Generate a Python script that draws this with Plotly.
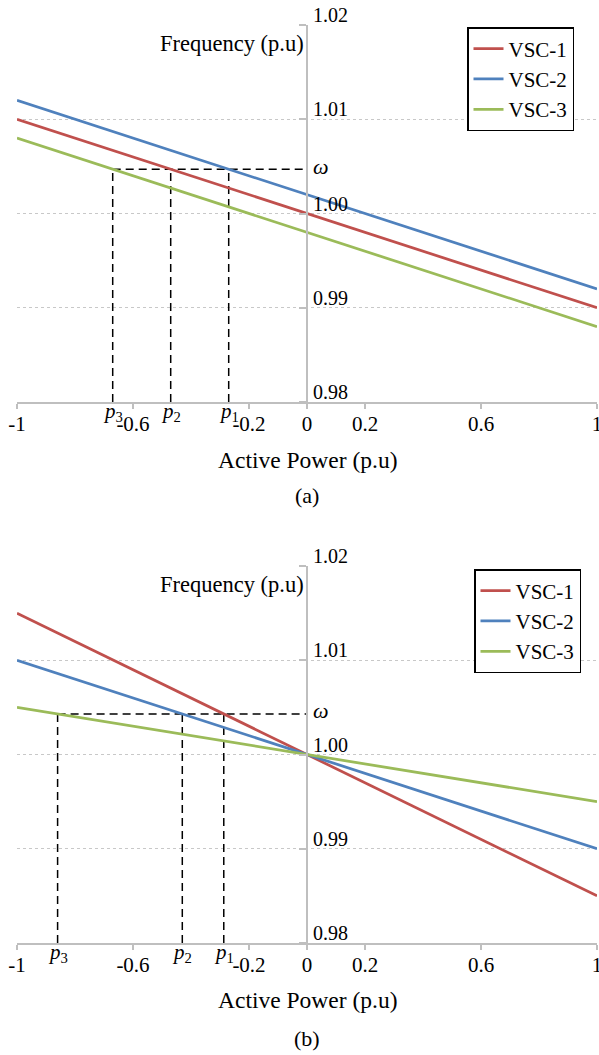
import plotly.graph_objects as go

# ---------------- data ----------------
x_ends = [-1, 1]
series_names = ["VSC-1", "VSC-2", "VSC-3"]
colors = ["#C0504D", "#4F81BD", "#9BBB59"]

# panel (a)
vsc1_a = [1.010, 0.990]
vsc2_a = [1.012, 0.992]
vsc3_a = [1.008, 0.988]
omega_a = 1.0047
p_a = [-0.27, -0.47, -0.67]          # p1, p2, p3

# panel (b)
vsc1_b = [1.015, 0.985]
vsc2_b = [1.010, 0.990]
vsc3_b = [1.005, 0.995]
omega_b = 1.0043
p_b = [-0.287, -0.43, -0.86]         # p1, p2, p3

x_tickvals = [-1, -0.6, -0.2, 0, 0.2, 0.6, 1]
x_ticktext = ["-1", "-0.6", "-0.2", "0", "0.2", "0.6", "1"]
y_tickvals = [0.98, 0.99, 1.00, 1.01, 1.02]
y_ticktext = ["0.98", "0.99", "1.00", "1.01", "1.02"]
p_labels = ["<i>p</i><sub>1</sub>", "<i>p</i><sub>2</sub>", "<i>p</i><sub>3</sub>"]

FONT = "Liberation Serif"
W, H = 599, 1055
GRID = "#C8C8C8"
AXIS = "#BFBFBF"

fig = go.Figure()

panels = [
    dict(xa="x", ya="y", leg="legend", series=[vsc1_a, vsc2_a, vsc3_a], omega=omega_a, p=p_a,
         ydom=(25, 402), tag="(a)", tag_y=495, title_y=460),
    dict(xa="x2", ya="y2", leg="legend2", series=[vsc1_b, vsc2_b, vsc3_b], omega=omega_b, p=p_b,
         ydom=(566, 943), tag="(b)", tag_y=1038, title_y=1000),
]

annotations = []
for pn in panels:
    # dashed guide lines
    dx, dy = [], []
    for pv in pn["p"]:
        dx += [pv, pv, None]
        dy += [0.98, pn["omega"], None]
    dx += [min(pn["p"]), 0]
    dy += [pn["omega"], pn["omega"]]
    fig.add_trace(go.Scatter(x=dx, y=dy, mode="lines", xaxis=pn["xa"], yaxis=pn["ya"],
                             line=dict(color="black", width=1.5, dash="8px,5px"),
                             showlegend=False, hoverinfo="skip"))
    for name, col, ys in zip(series_names, colors, pn["series"]):
        fig.add_trace(go.Scatter(x=x_ends, y=ys, mode="lines", name=name,
                                 xaxis=pn["xa"], yaxis=pn["ya"], legend=pn["leg"],
                                 line=dict(color=col, width=2.75)))
    # y tick labels (right of axis, above gridline)
    for v, t in zip(y_tickvals, y_ticktext):
        annotations.append(dict(x=0, y=v, xref=pn["xa"], yref=pn["ya"], text=t, showarrow=False,
                                xanchor="left", yanchor="bottom", xshift=4, yshift=-3,
                                font=dict(family=FONT, size=20, color="black")))
    # omega label
    annotations.append(dict(x=0, y=pn["omega"], xref=pn["xa"], yref=pn["ya"], text="<i>ω</i>",
                            showarrow=False, xanchor="left", yanchor="middle", xshift=4, yshift=3,
                            font=dict(family=FONT, size=22, color="black")))
    # p labels
    for pv, lab in zip(pn["p"], p_labels):
        annotations.append(dict(x=pv, y=0.98, xref=pn["xa"], yref=pn["ya"], text=lab,
                                showarrow=False, xanchor="center", yanchor="top", yshift=5,
                                font=dict(family=FONT, size=21, color="black")))
    # Frequency title
    annotations.append(dict(x=0, y=1.02, xref=pn["xa"], yref=pn["ya"], text="Frequency (p.u)",
                            showarrow=False, xanchor="right", yanchor="middle", xshift=-1, yshift=-18,
                            font=dict(family=FONT, size=22.5, color="black")))
    # Active power title
    annotations.append(dict(x=0, y=1 - pn["title_y"] / H, xref=pn["xa"], yref="paper",
                            text="Active Power (p.u)", showarrow=False, xanchor="center",
                            yanchor="middle", font=dict(family=FONT, size=23.5, color="black")))
    # panel tag
    annotations.append(dict(x=0, y=1 - pn["tag_y"] / H, xref=pn["xa"], yref="paper",
                            text=pn["tag"], showarrow=False, xanchor="center",
                            yanchor="middle", font=dict(family=FONT, size=22, color="black")))

xdom = [17 / W, 597 / W]
ypos = (17 + 0.5 * 580) / W


def xaxis_cfg(anchor):
    return dict(domain=xdom, range=[-1, 1], anchor=anchor, showline=True, linecolor=AXIS,
                linewidth=1.5, ticks="outside", ticklen=5, tickcolor=AXIS, tickwidth=1.5,
                tickvals=x_tickvals, ticktext=x_ticktext, showgrid=False, zeroline=False,
                tickfont=dict(family=FONT, size=21, color="black"), ticklabelstandoff=-3,
                automargin=False, ticklabeloverflow="allow")


def yaxis_cfg(ydom):
    return dict(domain=[1 - ydom[1] / H, 1 - ydom[0] / H], range=[0.98, 1.02], anchor="free",
                position=ypos, showline=True, linecolor=AXIS, linewidth=1.5, ticks="outside",
                ticklen=7, tickcolor=AXIS, tickwidth=1.5, tickvals=y_tickvals,
                showticklabels=False, showgrid=True, gridcolor=GRID, gridwidth=1,
                griddash="dot", zeroline=False, automargin=False)


leg_common = dict(font=dict(family=FONT, size=21, color="black"), bgcolor="white",
                  bordercolor="black", borderwidth=1.5, xanchor="left", yanchor="top",
                  tracegroupgap=0, entrywidth=72, entrywidthmode="pixels")

fig.update_layout(
    width=W, height=H, margin=dict(l=0, r=0, t=0, b=0, autoexpand=False),
    paper_bgcolor="white", plot_bgcolor="white",
    font=dict(family=FONT, color="black"),
    xaxis=xaxis_cfg("y"), yaxis=yaxis_cfg(panels[0]["ydom"]),
    xaxis2=xaxis_cfg("y2"), yaxis2=yaxis_cfg(panels[1]["ydom"]),
    legend=dict(x=467 / W, y=1 - 27 / H, **leg_common),
    legend2=dict(x=474 / W, y=1 - 569 / H, **leg_common),
    annotations=annotations,
)

fig.write_html("out.html")
